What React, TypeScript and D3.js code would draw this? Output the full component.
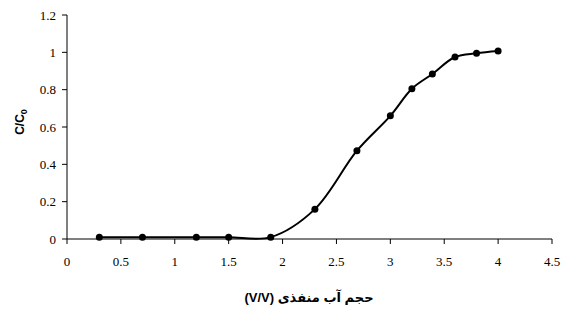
import React from "react";
import * as d3 from "d3";

// volume (V/V) and relative concentration C/C0
const volume = [0.3, 0.7, 1.2, 1.5, 1.89, 2.3, 2.69, 3.0, 3.2, 3.39, 3.6, 3.8, 4.0];
const ratio = [0.01, 0.01, 0.01, 0.01, 0.01, 0.16, 0.473, 0.66, 0.805, 0.884, 0.975, 0.995, 1.007];
const xTicks = [0, 0.5, 1, 1.5, 2, 2.5, 3, 3.5, 4, 4.5];
const yTicks = [0, 0.2, 0.4, 0.6, 0.8, 1, 1.2];

const App = () => {
  const width = 562;
  const height = 312;
  const margin = { left: 67, right: 10, top: 15, bottom: 73 };

  const x = d3.scaleLinear().domain([0, 4.5]).range([margin.left, width - margin.right]);
  const y = d3.scaleLinear().domain([0, 1.2]).range([height - margin.bottom, margin.top]);

  const points = volume.map((v, i) => [v, ratio[i]] as [number, number]);
  const line = d3
    .line<[number, number]>()
    .x((d) => x(d[0]))
    .y((d) => y(d[1]))
    .curve(d3.curveCatmullRom.alpha(0.5));

  const y0 = y(0);
  const serif = { fontFamily: "Liberation Serif, DejaVu Serif, serif", fontSize: 13 };
  const sans = {
    fontFamily: "Liberation Sans, Arial, DejaVu Sans, sans-serif",
    fontWeight: "bold" as const,
    fontSize: 12,
  };

  return (
    <svg
      width={width}
      height={height}
      style={{ position: "absolute", left: 0, top: 0, background: "#fff" }}
    >
      {/* y axis */}
      <line x1={x(0)} x2={x(0)} y1={y(1.2)} y2={y0} stroke="#000" strokeWidth={1} />
      {yTicks.map((t) => (
        <g key={"y" + t}>
          <line x1={x(0) - 5} x2={x(0)} y1={y(t)} y2={y(t)} stroke="#000" />
          <text x={x(0) - 11} y={y(t)} dy="0.35em" textAnchor="end" style={serif}>
            {t}
          </text>
        </g>
      ))}

      {/* x axis */}
      <line x1={x(0)} x2={x(4.5)} y1={y0} y2={y0} stroke="#000" strokeWidth={1} />
      {xTicks.map((t) => (
        <g key={"x" + t}>
          <line x1={x(t)} x2={x(t)} y1={y0} y2={y0 + 5} stroke="#000" />
          <text x={x(t)} y={y0 + 27} textAnchor="middle" style={serif}>
            {t}
          </text>
        </g>
      ))}

      {/* series */}
      <path d={line(points) ?? ""} fill="none" stroke="#000" strokeWidth={2} />
      {points.map((p, i) => (
        <circle key={i} cx={x(p[0])} cy={y(p[1])} r={3.5} fill="#000" />
      ))}

      {/* axis titles */}
      <text
        transform={`translate(24,${(y(1.2) + y0) / 2 - 5}) rotate(-90)`}
        textAnchor="middle"
        style={sans}
      >
        C/C<tspan style={{ fontSize: 9 }} dy={3}>0</tspan>
      </text>
      <text x={309} y={302} textAnchor="middle" direction="rtl" style={{ ...sans, fontSize: 13 }}>
        حجم آب منفذی (V/V)
      </text>
    </svg>
  );
};

export default App;
